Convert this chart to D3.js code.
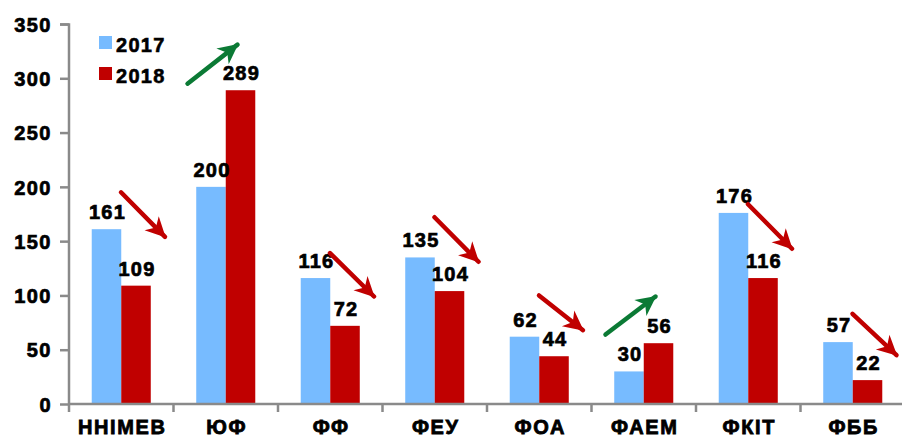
<!DOCTYPE html>
<html><head><meta charset="utf-8">
<script src="https://cdn.jsdelivr.net/npm/d3@7"></script>
<style>
html,body{margin:0;padding:0;background:#fff;overflow:hidden}
text{font-family:"Liberation Sans",Arial,sans-serif;font-weight:bold;fill:#000}
</style></head>
<body>
<svg id="c" width="902" height="437"></svg>
<script>
const categories = ["ННІМЕВ","ЮФ","ФФ","ФЕУ","ФОА","ФАЕМ","ФКІТ","ФББ"];
const values2017 = [161,200,116,135,62,30,176,57];
const values2018 = [109,289,72,104,44,56,116,22];
const seriesNames = ["2017","2018"];
const yTicks = [0,50,100,150,200,250,300,350];
// trend arrows (in data units)
const arrowStart = [195,295,139,172,100,64,184,83];
const arrowEnd   = [154,331,99,131,68,99,143,45];

const colors = {"2017":"#77BBFF","2018":"#C00000"};
const svg = d3.select("#c");
const y = d3.scaleLinear().domain([0,350]).range([404,24]);
const x = d3.scaleBand().domain(categories).range([69,905]).paddingInner(0.435).paddingOuter(0.2175);
const xs = d3.scaleBand().domain(seriesNames).range([0,x.bandwidth()]);
const step = x.step();
const bandStart = c => x(c) - x.paddingOuter()*step;

const defs = svg.append("defs");
[["red","#C00000"],["green","#0B7A35"]].forEach(([id,col])=>{
  defs.append("marker").attr("id","ah-"+id).attr("markerUnits","userSpaceOnUse")
    .attr("viewBox","-22 -12 24 24").attr("refX",0).attr("refY",0)
    .attr("markerWidth",24).attr("markerHeight",24).attr("orient","auto")
    .append("path").attr("d","M1,0 L-19,-10 L-13,0 L-19,10 Z").attr("fill",col);
});

// bars
const data = categories.map((c,i)=>({c, v:{"2017":values2017[i],"2018":values2018[i]}}));
seriesNames.forEach(s=>{
  svg.append("g").selectAll("rect").data(data).join("rect")
    .attr("x",d=>x(d.c)+xs(s)).attr("width",xs.bandwidth())
    .attr("y",d=>y(d.v[s])).attr("height",d=>y(0)-y(d.v[s]))
    .attr("fill",colors[s]);
});

// axes
const axisCol = "#8a8a8a";
const ya = d3.axisLeft(y).tickValues(yTicks).tickSize(9).tickFormat(d3.format("d"));
const gy = svg.append("g").attr("transform","translate(69,0)").call(ya);
gy.select(".domain").attr("stroke",axisCol).attr("stroke-width",2.5).attr("d","M-9,24.5H0V404");
gy.selectAll(".tick line").attr("stroke",axisCol).attr("stroke-width",2.5);
gy.selectAll(".tick text").attr("font-size",20).attr("letter-spacing","1.5px")
  .attr("x",-17).attr("dy","0.36em").attr("stroke","#000").attr("stroke-width",0.7)
  .attr("font-family",null).attr("fill","#000");

// x axis line
svg.append("line").attr("x1",68).attr("x2",905).attr("y1",y(0)).attr("y2",y(0))
  .attr("stroke",axisCol).attr("stroke-width",2.5);
const bounds = d3.range(categories.length+1).map(i=> 69 + i*step);
svg.append("g").selectAll("line").data(bounds).join("line")
  .attr("x1",d=>d).attr("x2",d=>d).attr("y1",y(0)).attr("y2",y(0)+8)
  .attr("stroke",axisCol).attr("stroke-width",2.5);
svg.append("g").selectAll("text").data(categories).join("text")
  .attr("x",c=>x(c)+x.bandwidth()/2+1).attr("y",434).attr("text-anchor","middle")
  .attr("font-size",20).attr("letter-spacing","1.6px").attr("stroke","#000").attr("stroke-width",0.8)
  .text(c=>c);

// value labels
seriesNames.forEach(s=>{
  svg.append("g").selectAll("text").data(data).join("text")
    .attr("x",d=>x(d.c)+xs(s)+xs.bandwidth()/2+1).attr("y",d=>y(d.v[s])-10)
    .attr("text-anchor","middle").attr("font-size",20).attr("letter-spacing","1.2px")
    .attr("stroke","#000").attr("stroke-width",0.7)
    .text(d=>d.v[s]);
});

// arrows
categories.forEach((c,i)=>{
  const up = arrowEnd[i] > arrowStart[i];
  const b = bandStart(c);
  const x1 = up ? b+14 : b+52, x2 = up ? b+64 : b+96;
  svg.append("line").attr("x1",x1).attr("y1",y(arrowStart[i])).attr("x2",x2).attr("y2",y(arrowEnd[i]))
    .attr("stroke",up?"#0B7A35":"#C00000").attr("stroke-width",4.5).attr("stroke-linecap","round")
    .attr("marker-end",`url(#ah-${up?"green":"red"})`);
});

// legend
seriesNames.forEach((s,i)=>{
  const ly = 36 + i*31;
  svg.append("rect").attr("x",99).attr("y",ly).attr("width",13).attr("height",13).attr("fill",colors[s]);
  svg.append("text").attr("x",116).attr("y",ly+16).attr("font-size",20).attr("letter-spacing","1.3px")
    .attr("stroke","#000").attr("stroke-width",0.6).text(s);
});
</script>
</body></html>
